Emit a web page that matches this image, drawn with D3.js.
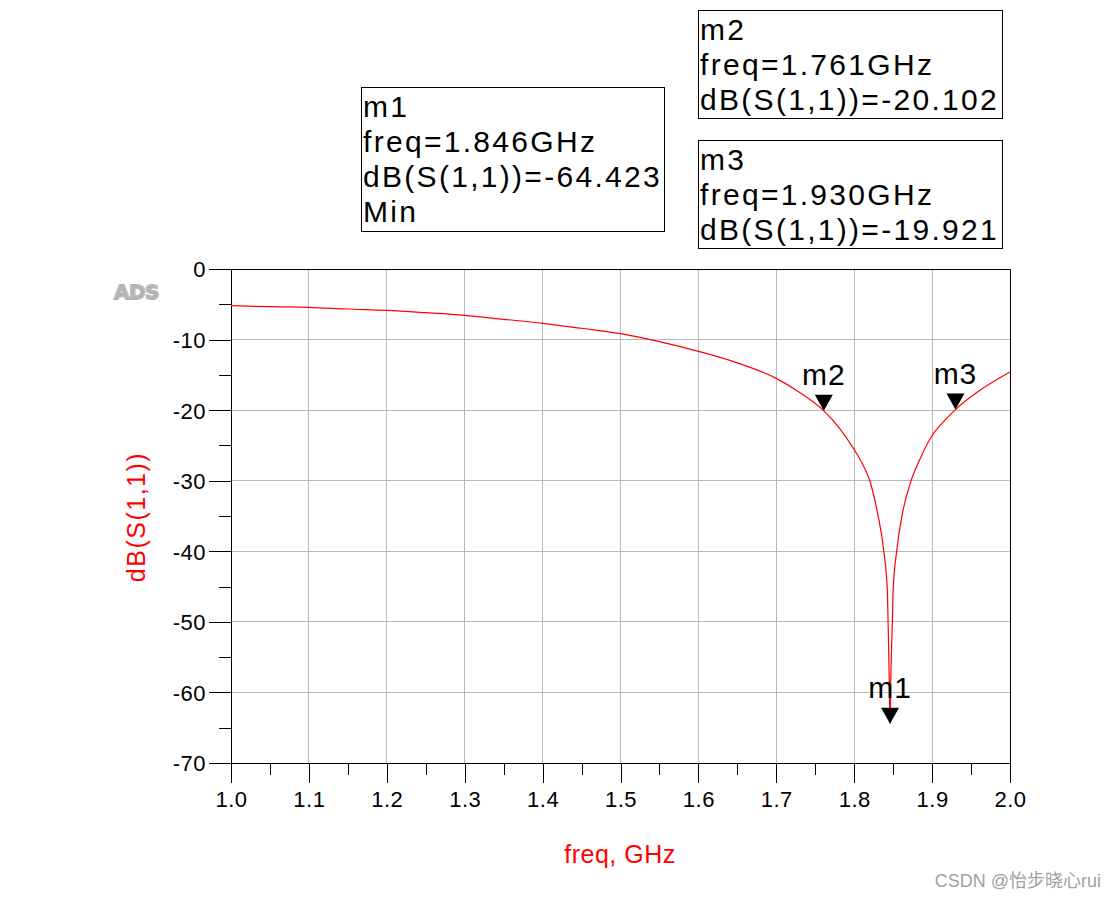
<!DOCTYPE html>
<html><head><meta charset="utf-8">
<script src="https://cdn.jsdelivr.net/npm/d3@7"></script>
<style>body{margin:0;background:#fff;} svg{display:block;font-family:Arial,"Liberation Sans",sans-serif;}</style>
</head><body>
<svg id="c" width="1117" height="904"></svg>
<script>
// ---- data ----
const freq = [1.00,1.05,1.10,1.15,1.20,1.25,1.30,1.35,1.40,1.45,1.50,1.55,1.60,1.65,1.70,1.73,1.761,1.78,1.80,1.81,1.82,1.83,1.838,1.8425,1.8435,1.845,1.846,1.847,1.849,1.850,1.8545,1.862,1.873,1.885,1.90,1.915,1.93,1.96,2.00];
const s11  = [-5.20,-5.34,-5.43,-5.67,-5.86,-6.19,-6.57,-7.13,-7.70,-8.40,-9.16,-10.3,-11.67,-13.3,-15.5,-17.5,-20.102,-22.4,-25.6,-27.5,-30,-34.6,-40,-45.5,-50,-58,-64.423,-58,-50,-45.5,-40,-34.6,-30,-26.8,-23.6,-21.6,-19.921,-17.3,-14.6];
const xTicks = [1.0,1.1,1.2,1.3,1.4,1.5,1.6,1.7,1.8,1.9,2.0];
const yTicks = [0,-10,-20,-30,-40,-50,-60,-70];
const markerNames = ["m1","m2","m3"];
const markerFreq = [1.846,1.761,1.930];
const markerVal = [-64.423,-20.102,-19.921];
const markerExtra = ["Min","",""];

const svg = d3.select("#c");
const L=231,R=1010,T=269,B=763;
const x = d3.scaleLinear().domain([1.0,2.0]).range([L,R]);
const y = d3.scaleLinear().domain([0,-70]).range([T,B]);

// grid
const g = svg.append("g");
g.selectAll(".vg").data(xTicks).join("line").attr("x1",d=>x(d)).attr("x2",d=>x(d)).attr("y1",T).attr("y2",B).attr("stroke","#b9b9b9").attr("stroke-width",1).attr("shape-rendering","crispEdges");
g.selectAll(".hg").data(yTicks).join("line").attr("y1",d=>y(d)).attr("y2",d=>y(d)).attr("x1",L).attr("x2",R).attr("stroke","#b9b9b9").attr("stroke-width",1).attr("shape-rendering","crispEdges");

// axes
const xAxis = d3.axisBottom(x).tickValues(xTicks).tickFormat(d3.format(".1f")).tickSize(20).tickPadding(8);
const xMinor = d3.axisBottom(x).tickValues(d3.range(1.05,2.0,0.1)).tickFormat("").tickSize(12);
const yAxis = d3.axisLeft(y).tickValues(yTicks).tickFormat(d=>String(d)).tickSize(22).tickPadding(3);
const yMinor = d3.axisLeft(y).tickValues(d3.range(-5,-70,-10)).tickFormat("").tickSize(12);
function styleAx(sel){sel.select(".domain").remove();sel.selectAll("line").attr("stroke","#000").attr("shape-rendering","crispEdges");sel.selectAll("text").attr("font-size","22px").attr("fill","#000").attr("font-family","Arial, 'Liberation Sans', sans-serif").attr("letter-spacing","0.5px");}
svg.append("g").attr("transform",`translate(0,${B})`).call(xAxis).call(styleAx);
svg.append("g").attr("transform",`translate(0,${B})`).call(xMinor).call(styleAx);
svg.append("g").attr("transform",`translate(${L},0)`).call(yAxis).call(styleAx).selectAll("text").attr("dy","0.36em");
svg.append("g").attr("transform",`translate(${L},0)`).call(yMinor).call(styleAx);

// frame
svg.append("rect").attr("x",L).attr("y",T).attr("width",R-L).attr("height",B-T).attr("fill","none").attr("stroke","#000").attr("stroke-width",1).attr("shape-rendering","crispEdges");

// curve
const pts = freq.map((f,i)=>[f,s11[i]]);
svg.append("path").datum(pts).attr("d",d3.line().curve(d3.curveMonotoneX).x(d=>x(d[0])).y(d=>y(d[1]))).attr("fill","none").attr("stroke","#ff0000").attr("stroke-width",1.2);

// markers
markerNames.forEach((n,i)=>{
  const px=x(markerFreq[i]), py=y(markerVal[i]);
  svg.append("path").attr("d",`M${px},${py} L${px-9},${py-16} L${px+9},${py-16} Z`).attr("fill","#000");
  svg.append("text").attr("x",px).attr("y",py-26).attr("text-anchor","middle").attr("font-size","30px").attr("letter-spacing","1px").text(n);
});

// marker boxes
const boxes = [
  {i:0,x:361,y:87,w:303,h:144},
  {i:1,x:698,y:10,w:304,h:108},
  {i:2,x:698,y:140,w:304,h:108}
];
boxes.forEach(b=>{
  svg.append("rect").attr("x",b.x+0.5).attr("y",b.y+0.5).attr("width",b.w).attr("height",b.h).attr("fill","#fff").attr("stroke","#000").attr("stroke-width",1);
  const lines=[markerNames[b.i],`freq=${markerFreq[b.i].toFixed(3)}GHz`,`dB(S(1,1))=${markerVal[b.i].toFixed(3)}`];
  if(markerExtra[b.i]) lines.push(markerExtra[b.i]);
  lines.forEach((t,k)=>{
    svg.append("text").attr("x",b.x+2).attr("y",b.y+30+k*35).attr("font-size","30px").attr("letter-spacing","2.3px").text(t);
  });
});

// axis titles
svg.append("text").attr("x",620).attr("y",863).attr("text-anchor","middle").attr("font-size","25px").attr("fill","#ff0000").attr("letter-spacing","0.5px").text("freq, GHz");
svg.append("text").attr("transform","translate(145,517) rotate(-90)").attr("text-anchor","middle").attr("font-size","25px").attr("fill","#ff0000").attr("letter-spacing","1.5px").text("dB(S(1,1))");

// ADS logo
svg.append("text").attr("x",114).attr("y",299).attr("font-size","20px").attr("font-weight","bold").attr("fill","#ffffff").attr("stroke","#a0a0a0").attr("stroke-width",1.4).attr("paint-order","stroke").attr("font-family","'DejaVu Sans', sans-serif").attr("letter-spacing","-0.5px").text("ADS");
svg.append("text").attr("x",114).attr("y",299).attr("font-size","20px").attr("font-weight","bold").attr("fill","#b4b4b4").attr("font-family","'DejaVu Sans', sans-serif").attr("letter-spacing","-0.5px").text("ADS");

// watermark
svg.append("text").attr("x",1101).attr("y",887).attr("text-anchor","end").attr("font-size","18px").attr("fill","#a0a0a0").attr("font-family","Arial,'Noto Sans CJK SC',sans-serif").text("CSDN @怡步晓心rui");
</script>
</body></html>
